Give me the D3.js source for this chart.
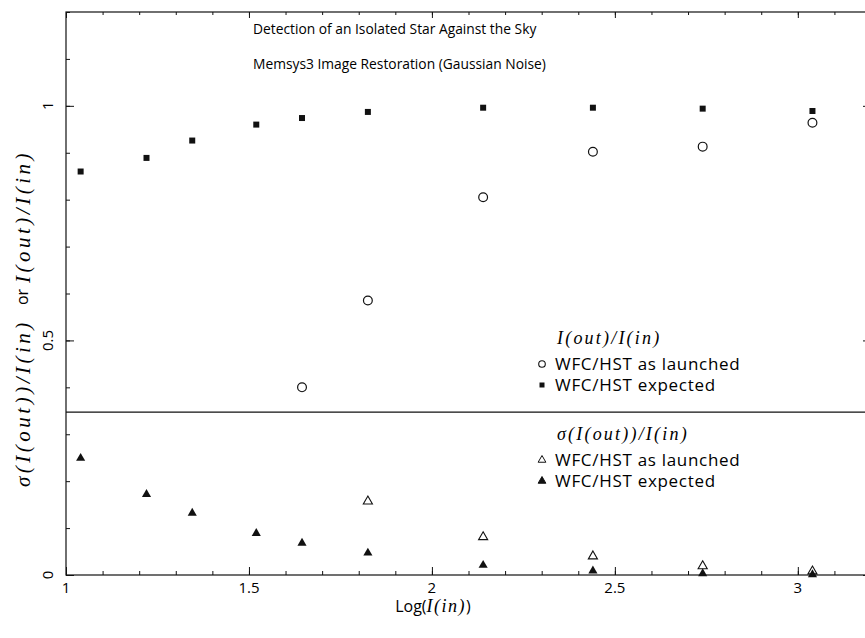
<!DOCTYPE html>
<html>
<head>
<meta charset="utf-8">
<script src="https://cdn.jsdelivr.net/npm/d3@7"></script>
<style>
  body { margin: 0; background: #fff; }
  svg { display: block; }
  .sans { font-family: "Open Sans", "DejaVu Sans", sans-serif; font-weight: 400; fill: #000; }
  .math { font-family: "Liberation Serif", "DejaVu Serif", serif; font-style: italic; fill: #000; }
</style>
</head>
<body>
<div id="chart"></div>
<script>
// Data

// Log(I(in)) positions of every test star
const logIn = [1.04, 1.22, 1.345, 1.52, 1.645, 1.825, 2.14, 2.44, 2.74, 3.04];
// I(out)/I(in), WFC/HST expected (filled squares)
const ratioExpected = [0.86, 0.889, 0.926, 0.96, 0.974, 0.987, 0.996, 0.996, 0.994, 0.989];
// I(out)/I(in), WFC/HST as launched (open circles), only from 1.645 on
const launchedLogIn = [1.645, 1.825, 2.14, 2.44, 2.74, 3.04];
const ratioLaunched = [0.40, 0.585, 0.805, 0.902, 0.913, 0.964];
// sigma(I(out))/I(in), expected (filled triangles)
const sigmaExpected = [0.249, 0.172, 0.132, 0.089, 0.068, 0.047, 0.021, 0.009, 0.003, 0.001];
// sigma(I(out))/I(in), as launched (open triangles)
const sigmaLaunchedLogIn = [1.825, 2.14, 2.44, 2.74, 3.04];
const sigmaLaunched = [0.157, 0.081, 0.040, 0.019, 0.008];

// Ticks
const xMajor = [1, 1.5, 2, 2.5, 3];
const xMinor = d3.range(10, 33).map((d) => d / 10);
const yMajor = [0, 0.5, 1];
const yMinor = d3.range(0, 13).map((d) => d / 10);
const xTickLabels = ["1", "1.5", "2", "2.5", "3"];
const yTickLabels = ["0", "0.5", "1"];

// the line that splits the two panels
const splitValue = 0.347;

const titleLines = [
  "Detection of an Isolated Star Against the Sky",
  "Memsys3 Image Restoration (Gaussian Noise)",
];

// END OF DATA

const W = 865, H = 638;
const plotLeft = 66, plotRight = 871, plotTop = 12, plotBottom = 575;

const svg = d3.select("#chart").append("svg")
  .attr("width", W).attr("height", H);

svg.append("rect").attr("width", W).attr("height", H).attr("fill", "#fff");

const x = d3.scaleLinear().domain([1, 3.2]).range([plotLeft, plotRight]);
const y = d3.scaleLinear().domain([0, 1.2]).range([plotBottom, plotTop]);

// Frame
svg.append("rect")
  .attr("x", plotLeft).attr("y", plotTop)
  .attr("width", plotRight - plotLeft).attr("height", plotBottom - plotTop)
  .attr("fill", "none").attr("stroke", "#111").attr("stroke-width", 1.2);

// helper: draw an axis with no domain path and no labels
function ticksOnly(axis, g) {
  g.call(axis.tickFormat(""));
  g.select(".domain").remove();
  g.selectAll("line").attr("stroke", "#111").attr("stroke-width", 1);
}

// Bottom axis (ticks point inward)
ticksOnly(d3.axisBottom(x).tickValues(xMinor).tickSize(-4),
  svg.append("g").attr("transform", `translate(0,${plotBottom})`));
ticksOnly(d3.axisBottom(x).tickValues(xMajor).tickSize(-8),
  svg.append("g").attr("transform", `translate(0,${plotBottom})`));
// Top axis
ticksOnly(d3.axisTop(x).tickValues(xMinor).tickSize(-3),
  svg.append("g").attr("transform", `translate(0,${plotTop})`));
ticksOnly(d3.axisTop(x).tickValues(xMajor).tickSize(-6),
  svg.append("g").attr("transform", `translate(0,${plotTop})`));
// Left axis
ticksOnly(d3.axisLeft(y).tickValues(yMinor).tickSize(-4),
  svg.append("g").attr("transform", `translate(${plotLeft},0)`));
ticksOnly(d3.axisLeft(y).tickValues(yMajor).tickSize(-8),
  svg.append("g").attr("transform", `translate(${plotLeft},0)`));
// Right axis
ticksOnly(d3.axisRight(y).tickValues(yMinor).tickSize(-4),
  svg.append("g").attr("transform", `translate(${plotRight},0)`));
ticksOnly(d3.axisRight(y).tickValues(yMajor).tickSize(-8),
  svg.append("g").attr("transform", `translate(${plotRight},0)`));

// Tick labels
svg.append("g").selectAll("text")
  .data(xMajor)
  .join("text")
  .attr("class", "sans")
  .attr("x", (d) => x(d))
  .attr("y", plotBottom + 18)
  .attr("text-anchor", "middle")
  .attr("font-size", 15)
  .text((d, i) => xTickLabels[i]);

svg.append("g").selectAll("text")
  .data(yMajor)
  .join("text")
  .attr("class", "sans")
  .attr("transform", (d) => `translate(${plotLeft - 13},${y(d)}) rotate(-90)`)
  .attr("text-anchor", "middle")
  .attr("font-size", 15)
  .text((d, i) => yTickLabels[i]);

// Split line between the two panels
svg.append("line")
  .attr("x1", plotLeft).attr("x2", plotRight)
  .attr("y1", y(splitValue)).attr("y2", y(splitValue))
  .attr("stroke", "#111").attr("stroke-width", 1.2);

// Titles
svg.append("g").selectAll("text")
  .data(titleLines)
  .join("text")
  .attr("class", "sans")
  .attr("x", 253)
  .attr("y", (d, i) => 34 + i * 35)
  .attr("font-size", 13.8)
  .text((d) => d);

// Markers
const sq = d3.symbol().type(d3.symbolSquare).size(36);
const tri = d3.symbol().type(d3.symbolTriangle).size(36);

svg.append("g").selectAll("path")
  .data(logIn.map((d, i) => [d, ratioExpected[i]]))
  .join("path")
  .attr("d", sq)
  .attr("transform", (d) => `translate(${x(d[0])},${y(d[1])})`)
  .attr("fill", "#111");

svg.append("g").selectAll("circle")
  .data(launchedLogIn.map((d, i) => [d, ratioLaunched[i]]))
  .join("circle")
  .attr("cx", (d) => x(d[0]))
  .attr("cy", (d) => y(d[1]))
  .attr("r", 4.4)
  .attr("fill", "none")
  .attr("stroke", "#111")
  .attr("stroke-width", 1.2);

svg.append("g").selectAll("path")
  .data(logIn.map((d, i) => [d, sigmaExpected[i]]))
  .join("path")
  .attr("d", tri)
  .attr("transform", (d) => `translate(${x(d[0])},${y(d[1])})`)
  .attr("fill", "#111");

svg.append("g").selectAll("path")
  .data(sigmaLaunchedLogIn.map((d, i) => [d, sigmaLaunched[i]]))
  .join("path")
  .attr("d", tri)
  .attr("transform", (d) => `translate(${x(d[0])},${y(d[1])})`)
  .attr("fill", "none")
  .attr("stroke", "#111")
  .attr("stroke-width", 1.1);

// Legends
function legend(yTop, heading, entries) {
  const g = svg.append("g");
  g.append("text")
    .attr("class", "math")
    .attr("x", 557).attr("y", yTop)
    .attr("font-size", 18)
    .attr("letter-spacing", 2.2)
    .text(heading);
  entries.forEach((e, i) => {
    const cy = yTop + 20 + i * 21;
    if (e.kind === "circle") {
      g.append("circle").attr("cx", 542).attr("cy", cy).attr("r", 3.3)
        .attr("fill", "none").attr("stroke", "#111").attr("stroke-width", 1.1);
    } else if (e.kind === "square") {
      g.append("path").attr("d", d3.symbol().type(d3.symbolSquare).size(25))
        .attr("transform", `translate(542,${cy})`).attr("fill", "#111");
    } else {
      g.append("path").attr("d", d3.symbol().type(d3.symbolTriangle).size(26))
        .attr("transform", `translate(542,${cy})`)
        .attr("fill", e.kind === "triFilled" ? "#111" : "none")
        .attr("stroke", "#111").attr("stroke-width", 1);
    }
    g.append("text")
      .attr("class", "sans")
      .attr("x", 555).attr("y", cy + 6)
      .attr("font-size", 17)
      .attr("letter-spacing", 0.7)
      .text(e.label);
  });
}

legend(344, "I(out)/I(in)", [
  { kind: "circle", label: "WFC/HST as launched" },
  { kind: "square", label: "WFC/HST expected" },
]);
legend(440, "σ(I(out))/I(in)", [
  { kind: "triOpen", label: "WFC/HST as launched" },
  { kind: "triFilled", label: "WFC/HST expected" },
]);

// Axis titles
const xl = svg.append("text")
  .attr("x", 433).attr("y", 612)
  .attr("text-anchor", "middle")
  .attr("font-size", 16);
xl.append("tspan").attr("class", "sans").text("Log(");
xl.append("tspan").attr("class", "math").attr("font-size", 18)
  .attr("letter-spacing", 1.5).text("I(in)");
xl.append("tspan").attr("class", "sans").text(")");

// y title: three pieces, rotated, reading bottom to top
const yTitleX = 30;
svg.append("text")
  .attr("class", "math")
  .attr("transform", `translate(${yTitleX},487) rotate(-90)`)
  .attr("font-size", 21)
  .attr("letter-spacing", 3.5)
  .text("σ(I(out))/I(in)");
svg.append("text")
  .attr("class", "sans")
  .attr("transform", `translate(${yTitleX - 2},297) rotate(-90)`)
  .attr("text-anchor", "middle")
  .attr("font-size", 16)
  .text("or");
svg.append("text")
  .attr("class", "math")
  .attr("transform", `translate(${yTitleX},283) rotate(-90)`)
  .attr("font-size", 21)
  .attr("letter-spacing", 3.5)
  .text("I(out)/I(in)");
</script>
</body>
</html>
